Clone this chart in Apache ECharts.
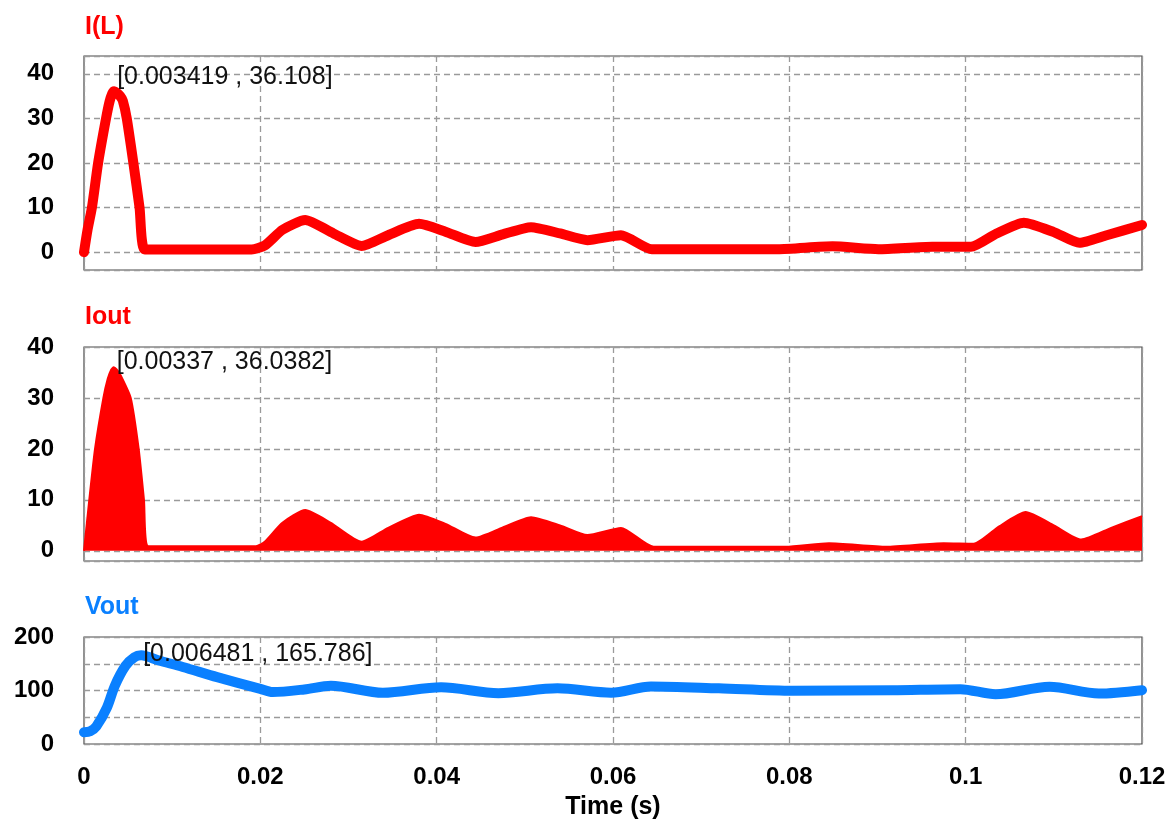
<!DOCTYPE html>
<html>
<head>
<meta charset="utf-8">
<script src="https://cdn.jsdelivr.net/npm/echarts@6/dist/echarts.min.js"></script>
<style>
  html, body { margin: 0; padding: 0; background: #fff; }
  #main { width: 1172px; height: 821px; }
</style>
</head>
<body>
<div id="main"></div>
<script>
    // I(L) - inductor current
    var tIL = [0, 0.0004, 0.0009, 0.0016, 0.0025, 0.0029, 0.0032, 0.003419, 0.0037, 0.0041, 0.0044, 0.00485, 0.0056, 0.0063, 0.0069,
        0.010, 0.015, 0.019, 0.0205, 0.0225, 0.0251, 0.0283, 0.0315, 0.0345, 0.038, 0.041, 0.0444, 0.0475, 0.0507,
        0.054, 0.0571, 0.0609, 0.0644, 0.070, 0.0787, 0.0849, 0.0901, 0.0962, 0.1006, 0.1035, 0.1066, 0.110, 0.1129,
        0.116, 0.12];
    var vIL = [0, 5, 10, 20, 30, 33.8, 35.6, 36.108, 35.8, 35, 34, 30, 20, 10, 0.6,
        0.6, 0.6, 0.6, 1.5, 5, 7.2, 4.2, 1.4, 3.8, 6.35, 4.6, 2.3, 4.0, 5.6,
        4.2, 2.7, 3.8, 0.65, 0.65, 0.65, 1.3, 0.65, 1.2, 1.2, 4.2, 6.6, 4.5, 2.1,
        3.8, 6.1];

    // Iout - output (diode) current envelope
    var tIout = [0, 0.0006, 0.00125, 0.0022, 0.0027, 0.0031, 0.00337, 0.0037, 0.0042, 0.0053, 0.0062, 0.0068, 0.0073,
        0.012, 0.0195, 0.0205, 0.0225, 0.0251, 0.028, 0.0315, 0.0345, 0.038, 0.041, 0.0444, 0.0475, 0.0507,
        0.054, 0.0571, 0.0609, 0.0646, 0.0796, 0.0845, 0.091, 0.0975, 0.1009, 0.1038, 0.1068, 0.110, 0.1131,
        0.1165, 0.12];
    var vIout = [0, 10, 20, 30, 33.8, 35.6, 36.0382, 35.6, 34.3, 30, 20, 10, 0.9,
        0.9, 0.9, 1.8, 5.5, 8.0, 5.5, 1.8, 4.5, 7.1, 5.3, 2.6, 4.6, 6.6,
        5.0, 3.1, 4.5, 0.8, 0.8, 1.5, 0.8, 1.5, 1.4, 4.8, 7.6, 5.0, 2.2,
        4.5, 6.8];

    // Vout - output voltage
    var tVout = [0, 0.0007, 0.0014, 0.0026, 0.0035, 0.0047, 0.0057, 0.006481, 0.0085, 0.0112, 0.0151, 0.02,
        0.0214, 0.025, 0.028, 0.0339, 0.0405, 0.047, 0.0537, 0.0598, 0.0643, 0.072, 0.0804, 0.0917, 0.0994,
        0.1034, 0.1095, 0.1151, 0.12];
    var vVout = [22, 24, 33, 68, 109, 146, 162, 165.786, 156, 144, 125, 103,
        97, 102, 109, 95.6, 106, 95, 104, 96, 107.6, 104, 99.4, 100.6, 102.5,
        93, 107, 94.3, 100.6];

    // cursor readouts shown in the plot
    var peakIL = [0.003419, 36.108];
    var peakIout = [0.00337, 36.0382];
    var peakVout = [0.006481, 165.786];

    var titles = ['I(L)', 'Iout', 'Vout'];

    var RED = '#ff0000';
    var BLUE = '#0a80ff';
    var FONT = 'Liberation Sans, Arial, sans-serif';
    var LBL = 24;

    function zip(t, v) {
        var out = [];
        for (var i = 0; i < t.length; i++) {
            out.push([t[i], v[i]]);
        }
        return out;
    }

    function peakMark(p, dx, dy) {
        return {
            symbol: 'circle',
            symbolSize: 0,
            silent: true,
            data: [{coord: p}],
            label: {
                show: true,
                position: [dx, dy],
                align: 'left',
                verticalAlign: 'top',
                color: '#111',
                fontFamily: FONT,
                fontSize: 25,
                formatter: '[' + p[0] + ' , ' + p[1] + ']'
            }
        };
    }

    var splitStyle = {show: true, lineStyle: {color: '#9a9a9a', type: [6, 4], width: 1.3}};

    function makeX(idx, last) {
        return {
            type: 'value',
            gridIndex: idx,
            min: 0,
            max: 0.12,
            interval: 0.02,
            axisLine: {show: false},
            axisTick: {show: false},
            splitLine: splitStyle,
            axisLabel: {
                show: last,
                margin: 21,
                color: '#000',
                fontWeight: 'bold',
                fontFamily: FONT,
                fontSize: LBL,
                formatter: function (v) { return String(+v.toFixed(2)); }
            },
            name: last ? 'Time (s)' : '',
            nameLocation: 'middle',
            nameGap: 51,
            nameTextStyle: {color: '#000', fontWeight: 'bold', fontFamily: FONT, fontSize: 25}
        };
    }

    function makeY(idx, min, max, step, showMax) {
        return {
            type: 'value',
            gridIndex: idx,
            min: min,
            max: max,
            interval: (min % step === 0) ? step / 2 : undefined,
            axisLine: {show: false},
            axisTick: {show: false},
            splitLine: splitStyle,
            axisLabel: {
                margin: 30,
                color: '#000',
                fontWeight: 'bold',
                fontFamily: FONT,
                fontSize: LBL,
                showMinLabel: min % step === 0,
                showMaxLabel: showMax,
                formatter: function (v) { return (v % step === 0) ? String(v) : ''; }
            }
        };
    }

    var myChart = echarts.init(document.getElementById('main'));

    var gridBase = {left: 84, right: 30, show: true, borderColor: '#4a4a4a', borderWidth: 1.2, backgroundColor: 'transparent'};

    option = {
        animation: false,
        backgroundColor: '#fff',
        title: [
            {text: titles[0], left: 85, top: 15, padding: 0, textStyle: {color: RED, fontSize: 25, fontWeight: 'bold', fontFamily: FONT}},
            {text: titles[1], left: 85, top: 305, padding: 0, textStyle: {color: RED, fontSize: 25, fontWeight: 'bold', fontFamily: FONT}},
            {text: titles[2], left: 85, top: 595, padding: 0, textStyle: {color: BLUE, fontSize: 25, fontWeight: 'bold', fontFamily: FONT}}
        ],
        grid: [
            Object.assign({}, gridBase, {top: 56, height: 214}),
            Object.assign({}, gridBase, {top: 347, height: 214}),
            Object.assign({}, gridBase, {top: 637, height: 107})
        ],
        xAxis: [makeX(0, false), makeX(1, false), makeX(2, true)],
        yAxis: [
            makeY(0, -4, 44, 10, false),
            makeY(1, -2, 40, 10, true),
            makeY(2, 0, 200, 100, true)
        ],
        series: [{
            name: 'I(L)',
            type: 'line',
            xAxisIndex: 0,
            yAxisIndex: 0,
            showSymbol: false,
            smooth: 0.2,
            lineStyle: {color: RED, width: 10, cap: 'round', join: 'round'},
            data: zip(tIL, vIL),
            markPoint: peakMark(peakIL, 3, -27)
        }, {
            name: 'Iout',
            type: 'line',
            xAxisIndex: 1,
            yAxisIndex: 1,
            showSymbol: false,
            smooth: 0.2,
            lineStyle: {color: RED, width: 2},
            areaStyle: {color: RED, opacity: 1, origin: 0},
            data: zip(tIout, vIout),
            markPoint: peakMark(peakIout, 3, -18)
        }, {
            name: 'Vout',
            type: 'line',
            xAxisIndex: 2,
            yAxisIndex: 2,
            showSymbol: false,
            smooth: 0.3,
            lineStyle: {color: BLUE, width: 10, cap: 'round', join: 'round'},
            data: zip(tVout, vVout),
            markPoint: peakMark(peakVout, 2, -14)
        }]
    };

    myChart.setOption(option);
</script>
</body>
</html>
